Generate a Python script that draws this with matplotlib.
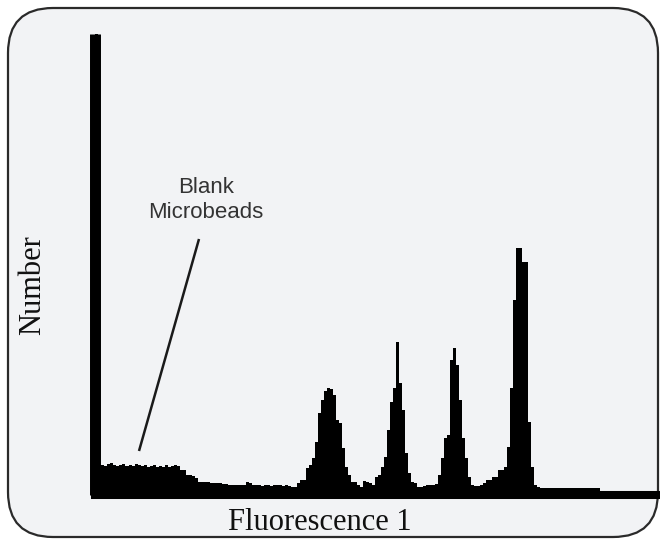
import numpy as np
import matplotlib
matplotlib.use('Agg')
from matplotlib import pyplot as plt
from matplotlib.patches import FancyBboxPatch

# histogram counts per channel (channel 0 is the debris spike)
counts = [
    461, 30,
    30, 29, 31, 32, 30, 29, 30, 31, 29, 30, 29, 31, 30, 29,
    30, 28, 29, 30, 28, 29, 28, 30, 28, 29, 30, 29,
    25, 25, 20, 20, 19, 17, 13, 13, 13, 13, 12, 12, 12, 12,
    11, 11, 10, 10, 10, 10, 10, 10, 13, 12,
    10, 10, 10, 9, 10, 10, 9, 10, 10, 10, 9, 10,
    # peak 1
    9, 8, 8, 12, 15, 15, 27, 30, 37, 53, 82, 95, 104, 107, 106, 100,
    75, 72, 47, 28, 20, 13, 13, 10, 8, 14, 13, 12,
    # peak 2
    10, 18, 20, 28, 38, 65, 93, 107, 153, 112, 85, 42, 22, 13, 12,
    8, 8, 9, 10, 10, 10, 11,
    # peak 3
    20, 37, 57, 60, 135, 147, 130, 95, 57, 37, 18, 10, 9, 9, 10,
    # peak 4
    12, 15, 15, 18, 18, 25, 25, 28, 48, 107, 195, 247, 247, 233, 233,
    73, 28, 10, 8,
    7, 7, 7, 7, 7, 7, 7, 7, 7, 7, 7, 7, 7, 7, 7, 7, 7, 7, 7, 7,
    3, 3, 3, 3, 3, 3, 3, 3, 3, 3, 3, 3, 3, 3, 3, 3, 3, 3, 3, 3, 3,
]
x_label = 'Fluorescence 1'
y_label = 'Number'
note = 'Blank\nMicrobeads'


def main():
    fig = plt.figure(figsize=(6.6, 5.4), dpi=100, facecolor='white')

    # background panel in pixel coordinates
    bg = fig.add_axes([0, 0, 1, 1])
    bg.set_xlim(0, 660)
    bg.set_ylim(540, 0)
    bg.axis('off')
    panel = FancyBboxPatch((8, 8), 650, 529,
                           boxstyle='round,pad=0,rounding_size=45',
                           facecolor='#f2f3f5', edgecolor='#2a2a2a', lw=1.6)
    bg.add_patch(panel)
    bg.plot([199, 139], [239, 451], color='#1a1a1a', lw=1.8,
            solid_capstyle='butt')
    bg.text(206, 200, note, ha='center', va='center', fontsize=16,
            color='#333333', family='Liberation Sans', linespacing=1.2)
    bg.text(33, 285, y_label, rotation=90, ha='center', va='center',
            fontsize=22, family='Liberation Serif', color='#111111')
    bg.text(320, 530, x_label, ha='center', va='baseline',
            fontsize=22, family='Liberation Serif', color='#111111')

    ax = fig.add_axes([95.5 / 660, 45 / 540, (660 - 95.5) / 660, 461 / 540])
    ax.patch.set_alpha(0)
    edges = np.arange(len(counts) + 1)
    ax.stairs(counts, edges, fill=True, color='black')
    ax.set_xlim(0, (660 - 95.5) / 3)
    ax.set_ylim(0, 461)
    ax.set_xticks([])
    ax.set_yticks([])
    for s in ['top', 'right']:
        ax.spines[s].set_visible(False)
    ax.spines['left'].set_linewidth(7.9)
    ax.spines['left'].set_capstyle('butt')
    ax.spines['bottom'].set_linewidth(5.8)
    ax.spines['bottom'].set_capstyle('projecting')

    plt.savefig('out.png', dpi=100)


if __name__ in '__main__':
    main()
